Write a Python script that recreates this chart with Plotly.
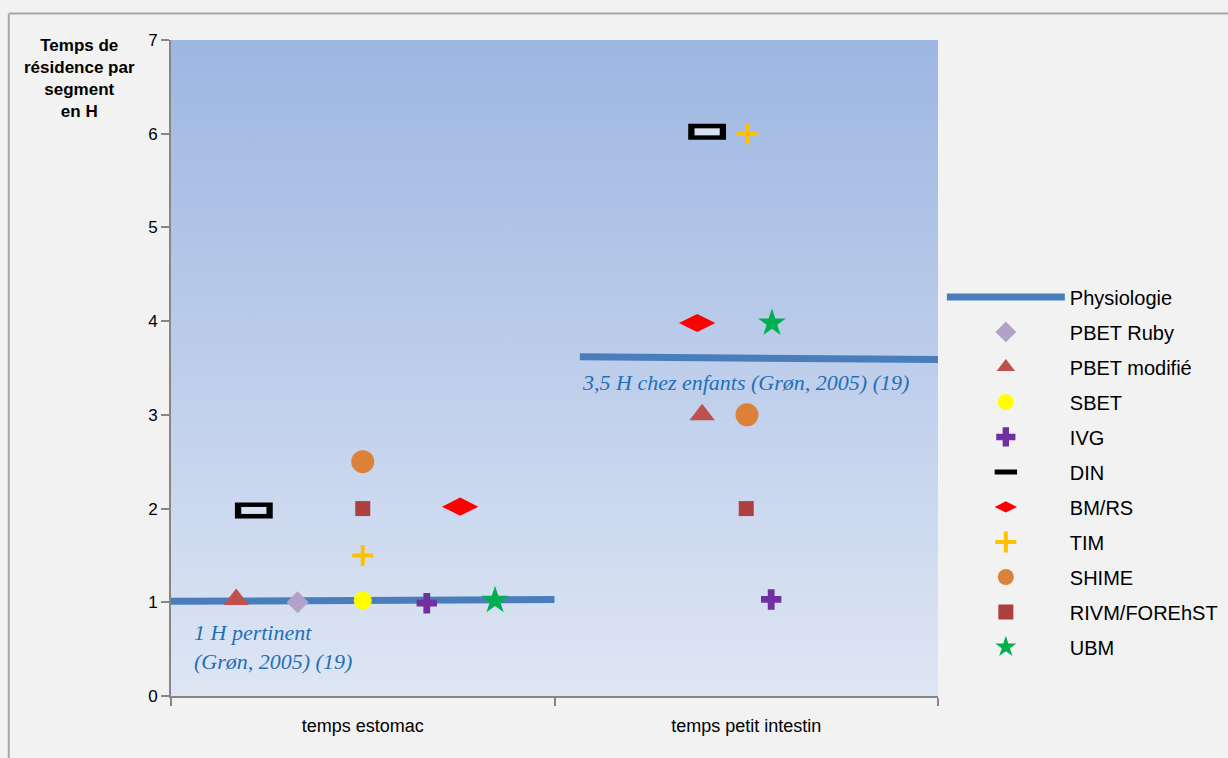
import plotly.graph_objects as go

# Category axis: each segment occupies one unit on a numeric x axis
categories = ["temps estomac", "temps petit intestin"]
category_centers = [0.5, 1.5]
category_bounds = [0, 1, 2]
y_ticks = [0, 1, 2, 3, 4, 5, 6, 7]

# Physiological reference residence times (h), drawn as segments
physio_x = [0.0, 1.0, None, 1.066, 2.0]
physio_y = [1.01, 1.03, None, 3.62, 3.59]

# Residence time (h) per model: x positions within each segment, y values
models = ["PBET Ruby", "PBET modifié", "SBET", "IVG", "DIN", "BM/RS",
          "TIM", "SHIME", "RIVM/FOREhST", "UBM"]
model_x = {
    "PBET Ruby":    [0.33],
    "PBET modifié": [0.17, 1.385],
    "SBET":         [0.50],
    "IVG":          [0.667, 1.565],
    "DIN":          [0.216, 1.398],
    "BM/RS":        [0.754, 1.372],
    "TIM":          [0.50, 1.502],
    "SHIME":        [0.50, 1.502],
    "RIVM/FOREhST": [0.50, 1.50],
    "UBM":          [0.845, 1.567],
}
model_y = {
    "PBET Ruby":    [1.0],
    "PBET modifié": [1.03, 3.0],
    "SBET":         [1.02],
    "IVG":          [0.99, 1.03],
    "DIN":          [1.98, 6.02],
    "BM/RS":        [2.02, 3.98],
    "TIM":          [1.5, 6.0],
    "SHIME":        [2.5, 3.0],
    "RIVM/FOREhST": [2.0, 2.0],
    "UBM":          [1.02, 3.98],
}

styles = {
    "PBET Ruby":    dict(symbol="diamond", size=17, color="#B3A2C7"),
    "PBET modifié": dict(symbol="triangle-up", size=22, color="#C0504D"),
    "SBET":         dict(symbol="circle", size=18, color="#FFFF00"),
    "IVG":          dict(symbol="cross", size=17, color="#7030A0"),
    "DIN":          dict(symbol="line-ew", size=27, color="#000000",
                         line=dict(color="#000000", width=16)),
    "BM/RS":        dict(symbol="diamond-wide", size=26, color="#FF0000"),
    "TIM":          dict(symbol="cross-thin", size=15, color="#FFC000",
                         line=dict(color="#FFC000", width=4)),
    "SHIME":        dict(symbol="circle", size=23, color="#DC8238"),
    "RIVM/FOREhST": dict(symbol="square", size=15, color="#AD403E"),
    "UBM":          dict(symbol="star", size=21, color="#00B050"),
}

FONT = "Liberation Sans, Arial, sans-serif"
SERIF = "Liberation Serif, Times New Roman, serif"

fig = go.Figure()

# Plot-area background with a vertical gradient
fig.add_trace(go.Scatter(
    x=[0, 2, 2, 0, 0], y=[0, 0, 7, 7, 0], mode="lines",
    line=dict(width=0), fill="toself",
    fillgradient=dict(type="vertical",
                      colorscale=[[0, "#DEE6F4"], [1, "#9DB6E2"]]),
    hoverinfo="skip", showlegend=False,
))

fig.add_trace(go.Scatter(
    x=physio_x, y=physio_y, mode="lines", name="Physiologie",
    line=dict(color="#4A7EBB", width=7), legendgroup="physio",
))

for m in models:
    st = styles[m]
    marker = dict(symbol=st["symbol"], size=st["size"], color=st["color"],
                  line=st.get("line", dict(width=0)))
    fig.add_trace(go.Scatter(
        x=model_x[m], y=model_y[m], mode="markers", name=m,
        marker=marker, legendgroup=m, cliponaxis=False,
    ))
    if m == "DIN":
        # hollow centre of the DIN rectangle
        fig.add_trace(go.Scatter(
            x=model_x[m], y=model_y[m], mode="markers", showlegend=False,
            marker=dict(symbol="line-ew", size=18,
                        line=dict(color="#D8E1F2", width=7)),
            legendgroup=m, hoverinfo="skip", cliponaxis=False,
        ))

fig.add_annotation(
    x=0.055, y=0.83, xref="x", yref="y", xanchor="left", yanchor="top",
    text="<i>1 H pertinent<br>(Grøn, 2005) (19)</i>", showarrow=False,
    align="left", font=dict(family=SERIF, size=22, color="#1F6FB8"),
)
fig.add_annotation(
    x=1.066, y=3.34, xref="x", yref="y", xanchor="left", yanchor="middle",
    text="<i>3,5 H chez enfants (Grøn, 2005) (19)</i>", showarrow=False,
    font=dict(family=SERIF, size=22, color="#1F6FB8"),
)
fig.add_annotation(
    x=-0.119, y=1.009, xref="paper", yref="paper", xanchor="center",
    yanchor="top", showarrow=False, align="center",
    text="<b>Temps de<br>résidence par<br>segment<br>en H</b>",
    font=dict(family=FONT, size=17, color="#000000"),
)

# Outer chart frame (top and left edges)
fig.add_shape(type="line", xref="paper", yref="paper",
              x0=-0.211, x1=1.5, y0=1.0405, y1=1.0405,
              line=dict(color="#A6A6A6", width=2))
fig.add_shape(type="line", xref="paper", yref="paper",
              x0=-0.2115, x1=-0.2115, y0=-0.2, y1=1.0405,
              line=dict(color="#A6A6A6", width=2))

fig.update_layout(
    width=1228, height=758,
    margin=dict(l=171, r=290, t=40, b=62, autoexpand=False),
    paper_bgcolor="#F2F2F2", plot_bgcolor="rgba(0,0,0,0)",
    font=dict(family=FONT, size=15, color="#000000"),
    showlegend=True,
    legend=dict(
        x=1.005, y=0.638, xanchor="left", yanchor="top",
        bgcolor="rgba(0,0,0,0)", font=dict(family=FONT, size=20),
        tracegroupgap=6, itemwidth=118,
    ),
    xaxis=dict(
        range=[0, 2], showgrid=False, zeroline=False,
        tickvals=category_centers, ticktext=categories, ticks="",
        ticklabelstandoff=12,
        showline=True, linecolor="#868686", linewidth=2,
        minor=dict(tickvals=category_bounds, ticks="outside", ticklen=8,
                   tickcolor="#868686", tickwidth=2, showgrid=False),
        tickfont=dict(size=18),
    ),
    yaxis=dict(
        range=[0, 7], tickvals=y_ticks, showgrid=True,
        gridcolor="#8C8C8C", gridwidth=1.5, zeroline=False,
        showline=True, linecolor="#868686", linewidth=2,
        ticks="outside", ticklen=8, tickcolor="#868686", tickwidth=2,
        tickfont=dict(size=17),
    ),
)

fig.write_html("out.html")
